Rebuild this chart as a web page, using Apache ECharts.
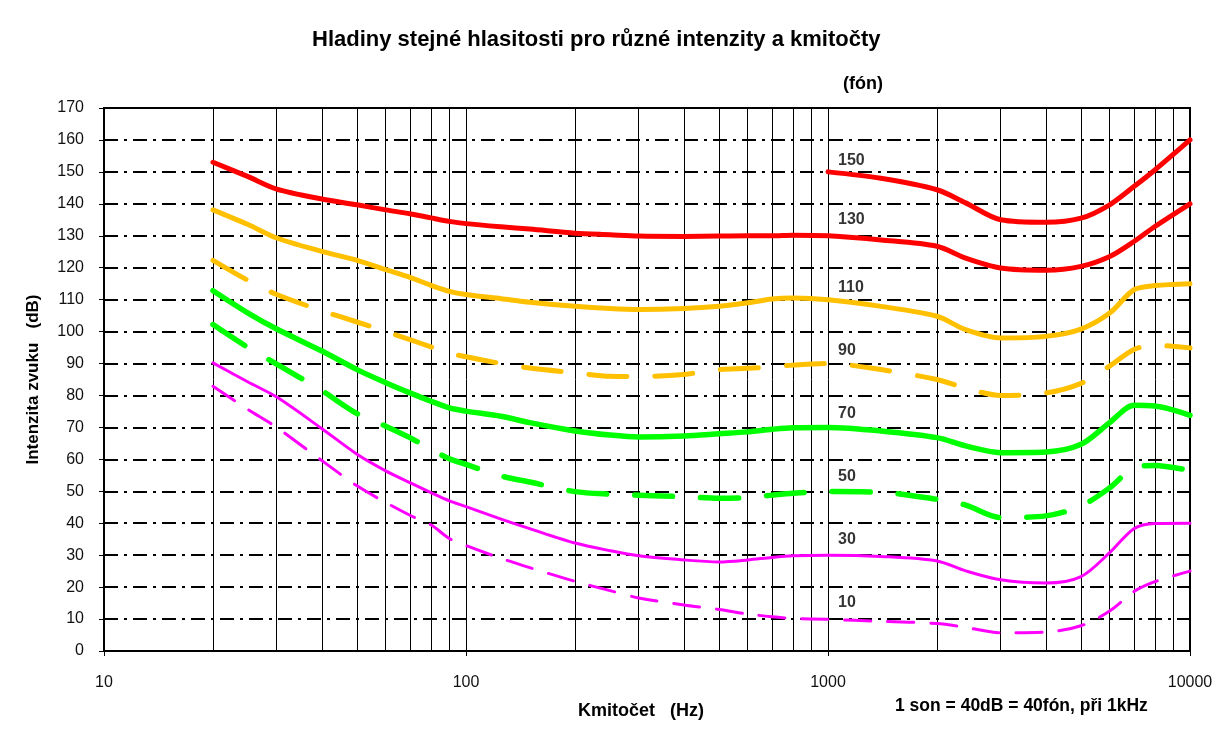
<!DOCTYPE html>
<html>
<head>
<meta charset="utf-8">
<script src="https://cdn.jsdelivr.net/npm/echarts@6/dist/echarts.min.js"></script>
<style>
  html, body { margin: 0; padding: 0; background: #fff; }
  #chart { width: 1230px; height: 748px; }
</style>
</head>
<body>
<div id="chart"></div>
<script>
// ---- data ----
const freq = [20, 25, 30, 40, 50, 60, 70, 80, 90, 100, 125, 150, 200, 250, 300, 400, 500, 600, 700, 800, 1000, 1400, 2000, 2400, 3000, 4000, 5000, 6000, 7000, 8000, 10000];
const phon150 = [null, null, null, null, null, null, null, null, null, null, null, null, null, null, null, null, null, null, null, null, 150, 148, 144.4, 140.3, 135, 134.2, 135.5, 139.7, 145.4, 150.6, 160];
const phon130 = [153, 148.5, 144.6, 141.5, 139.7, 138.1, 136.9, 135.6, 134.5, 133.8, 132.8, 132.1, 130.8, 130.3, 129.9, 129.8, 129.9, 130, 130, 130.2, 130, 128.7, 126.7, 123, 119.9, 119.2, 120.4, 123.5, 128.2, 132.9, 140];
const phon110 = [138.1, 133.5, 129.3, 125.1, 122.3, 119.4, 117, 114.5, 112.6, 111.6, 110.3, 109.2, 107.9, 107.2, 106.9, 107.2, 107.9, 109, 110.2, 110.5, 110, 107.9, 104.8, 100.6, 98, 98.5, 100.8, 105.8, 113.1, 114.4, 115];
const phon90 = [122.3, 116, 111.6, 106.5, 103, 100, 97.5, 95.2, 93.3, 92.1, 90, 88.6, 87.1, 86, 85.9, 86.6, 88.1, 88.5, 89, 89.5, 90, 88.1, 85, 82.3, 80, 80.8, 83.8, 89.2, 94.4, 95.7, 94.9];
const phon70 = [112.8, 105.8, 100.8, 93.9, 88.1, 84, 80.8, 78.2, 76.1, 75.1, 73.5, 71.5, 68.9, 67.6, 67, 67.3, 68, 68.6, 69.4, 69.9, 70, 68.9, 66.8, 64.2, 62.1, 62.3, 64.7, 71.5, 76.9, 76.7, 73.8];
const phon50 = [102.2, 95, 89.8, 81.5, 74.3, 70.4, 66.8, 63.1, 60.2, 58.4, 54.8, 52.9, 49.9, 49.1, 48.8, 48.3, 47.8, 48, 48.8, 49.4, 49.9, 49.7, 47.5, 45.7, 41.8, 42.3, 45.4, 51.1, 57.4, 58.1, 56.5];
const phon30 = [90.2, 84.2, 79.5, 69.6, 61.6, 56.4, 52.7, 49.6, 47, 45.2, 41.3, 38.3, 33.8, 31.4, 29.8, 28.5, 27.9, 28.5, 29.3, 29.8, 30, 29.6, 28.2, 25.1, 22.3, 21.3, 23.3, 30.8, 38.3, 39.9, 40];
const phon10 = [82.9, 75.6, 70, 59.6, 51.7, 46.5, 42.5, 39.5, 35.2, 33, 29, 26.1, 21.8, 18.9, 16.6, 14.4, 13, 11.6, 10.7, 10.2, 9.9, 9.3, 8.6, 7.4, 5.7, 5.9, 7.9, 12.5, 18.6, 21.7, 25];

const phonNames = ['150', '130', '110', '90', '70', '50', '30', '10'];
const phonLabelY = [153.4, 135, 113.7, 94.2, 74.2, 54.5, 34.8, 15];
const phonLabelFreq = 1066;
const minorFreqs = [20, 30, 40, 50, 60, 70, 80, 90, 200, 300, 400, 500, 600, 700, 800, 900, 2000, 3000, 4000, 5000, 6000, 7000, 8000, 9000];

const titleText = 'Hladiny stejné hlasitosti pro různé intenzity a kmitočty';
const unitText = '(fón)';
const noteText = '1 son = 40dB = 40fón, při 1kHz';
const xName = 'Kmitočet   (Hz)';
const yName = 'Intenzita zvuku   (dB)';

// ---- chart ----
const FONT = '"Liberation Sans", Arial, sans-serif';
const chart = echarts.init(document.getElementById('chart'), null, { renderer: 'canvas' });

function pairs(vals) { return freq.map((f, i) => [f, vals[i]]); }

function curve(name, vals, color, width, dash) {
  return {
    name: name,
    type: 'line',
    data: pairs(vals),
    smooth: 0.3,
    showSymbol: false,
    symbol: 'none',
    connectNulls: false,
    silent: true,
    z: 5,
    lineStyle: { color: color, width: width, type: dash || 'solid', cap: 'round', join: 'round' }
  };
}

const series = [
  {
    name: 'minorGrid',
    type: 'line',
    data: [],
    silent: true,
    z: 1,
    markLine: {
      silent: true,
      symbol: ['none', 'none'],
      animation: false,
      label: { show: false },
      lineStyle: { color: '#000', width: 1, type: 'solid' },
      data: minorFreqs.map(f => ({ xAxis: f }))
    }
  },
  curve('150', phon150, '#FF0000', 5),
  curve('130', phon130, '#FF0000', 5),
  curve('110', phon110, '#FFC000', 5),
  curve('90', phon90, '#FFC000', 5, [38, 28]),
  curve('70', phon70, '#00FF00', 5.5),
  curve('50', phon50, '#00FF00', 5.5, [38, 28]),
  curve('30', phon30, '#FF00FF', 3),
  curve('10', phon10, '#FF00FF', 3, [26, 17]),
  {
    name: 'labels',
    type: 'scatter',
    symbolSize: 0,
    silent: true,
    z: 6,
    data: phonNames.map((n, i) => [phonLabelFreq, phonLabelY[i], n]),
    label: {
      show: true,
      position: 'right',
      distance: 0,
      formatter: p => p.data[2],
      color: '#000',
      fontFamily: FONT,
      fontWeight: 'bold',
      fontSize: 16
    }
  }
];

const option = {
  animation: false,
  backgroundColor: '#fff',
  title: [
    { text: titleText, left: 312, top: 29, padding: 0, textStyle: { fontFamily: FONT, fontWeight: 'bold', fontSize: 22, color: '#000' } },
    { text: unitText, left: 843, top: 75, padding: 0, textStyle: { fontFamily: FONT, fontWeight: 'bold', fontSize: 18, color: '#000' } },
    { text: noteText, left: 895, top: 697, padding: 0, textStyle: { fontFamily: FONT, fontWeight: 'bold', fontSize: 17.5, color: '#000' } }
  ],
  grid: { left: 104, right: 40, top: 108, bottom: 97, show: true, borderColor: '#000', borderWidth: 2, backgroundColor: 'transparent' },
  xAxis: {
    type: 'log',
    logBase: 10,
    min: 10,
    max: 10000,
    name: xName,
    nameLocation: 'middle',
    nameGap: 51,
    nameTextStyle: { fontFamily: FONT, fontWeight: 'bold', fontSize: 18, color: '#000', padding: [0, 12, 0, 0] },
    axisLine: { show: true, lineStyle: { color: '#000', width: 2 } },
    axisTick: { show: true, length: 5, lineStyle: { color: '#000', width: 1 } },
    axisLabel: { fontFamily: FONT, fontSize: 16, color: '#111', margin: 24, formatter: v => String(Math.round(v)) },
    splitLine: { show: true, lineStyle: { color: '#000', width: 1 } },
    minorTick: { show: false },
    minorSplitLine: { show: false }
  },
  yAxis: {
    type: 'value',
    min: 0,
    max: 170,
    interval: 10,
    name: yName,
    nameLocation: 'middle',
    nameGap: 62,
    nameRotate: 90,
    nameTextStyle: { fontFamily: FONT, fontWeight: 'bold', fontSize: 17, color: '#000' },
    axisLine: { show: true, lineStyle: { color: '#000', width: 2 } },
    axisTick: { show: true, length: 5, inside: false, lineStyle: { color: '#000', width: 1 } },
    axisLabel: { fontFamily: FONT, fontSize: 16, color: '#111', margin: 20 },
    splitLine: { show: true, lineStyle: { color: '#000', width: 2, type: [14, 6, 3, 6] } }
  },
  series: series
};

chart.setOption(option);
</script>
</body>
</html>
